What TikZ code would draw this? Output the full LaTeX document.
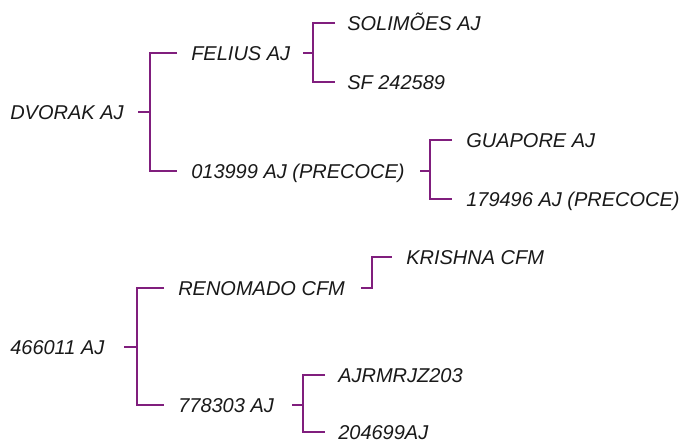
\documentclass[tikz,border=0pt]{standalone}
\usepackage{fontspec}
\setmainfont{Liberation Sans}
\definecolor{brpurple}{RGB}{128,30,125}
\begin{document}
\begin{tikzpicture}[x=0.75pt,y=-0.75pt,
  lbl/.style={font=\itshape\fontsize{15pt}{18pt}\selectfont, text=black!90, anchor=west, inner sep=0pt, text height=10.7pt, text depth=0pt},
  br/.style={draw=brpurple, line width=1.8pt}]
\useasboundingbox (0,0) rectangle (683,441);
% tree 1
\node[lbl] (dv)   at (10,112)  {DVORAK AJ};
\node[lbl] (fel)  at (191,53)  {FELIUS AJ};
\node[lbl] (sol)  at (347,23)  {SOLIMÕES AJ};
\node[lbl] (sf)   at (347,82)  {SF 242589};
\node[lbl] (f013) at (191,171) {013999 AJ (PRECOCE)};
\node[lbl] (gua)  at (466,140) {GUAPORE AJ};
\node[lbl] (p179) at (466,199) {179496 AJ (PRECOCE)};
% tree 2
\node[lbl] (n466) at (10,347)  {466011 AJ};
\node[lbl] (ren)  at (178,288) {RENOMADO CFM};
\node[lbl] (kri)  at (406,257) {KRISHNA CFM};
\node[lbl] (n778) at (178,405) {778303 AJ};
\node[lbl] (ajr)  at (338,375) {AJRMRJZ203};
\node[lbl] (n204) at (338,432) {204699AJ};
% junction coordinates
\coordinate (s1) at (138,112); \coordinate (j1) at (150,112);
\coordinate (s2) at (303,53);  \coordinate (j2) at (313,53);
\coordinate (s3) at (420,171); \coordinate (j3) at (430,171);
\coordinate (s4) at (124,347); \coordinate (j4) at (137,347);
\coordinate (s5) at (361,288); \coordinate (j5) at (372,288);
\coordinate (s6) at (292,405); \coordinate (j6) at (303,405);
% connectors
\draw[br] (s1) -- (j1);
\draw[br] ([xshift=-10.5pt]fel.west) -| (j1) |- ([xshift=-10.5pt]f013.west);
\draw[br] (s2) -- (j2);
\draw[br] ([xshift=-9pt]sol.west) -| (j2) |- ([xshift=-9pt]sf.west);
\draw[br] (s3) -- (j3);
\draw[br] ([xshift=-10.5pt]gua.west) -| (j3) |- ([xshift=-10.5pt]p179.west);
\draw[br] (s4) -- (j4);
\draw[br] ([xshift=-10.5pt]ren.west) -| (j4) |- ([xshift=-10.5pt]n778.west);
\draw[br] (s5) -- (j5) |- ([xshift=-10.5pt]kri.west);
\draw[br] (s6) -- (j6);
\draw[br] ([xshift=-9.75pt]ajr.west) -| (j6) |- ([xshift=-9.75pt]n204.west);
\end{tikzpicture}
\end{document}
